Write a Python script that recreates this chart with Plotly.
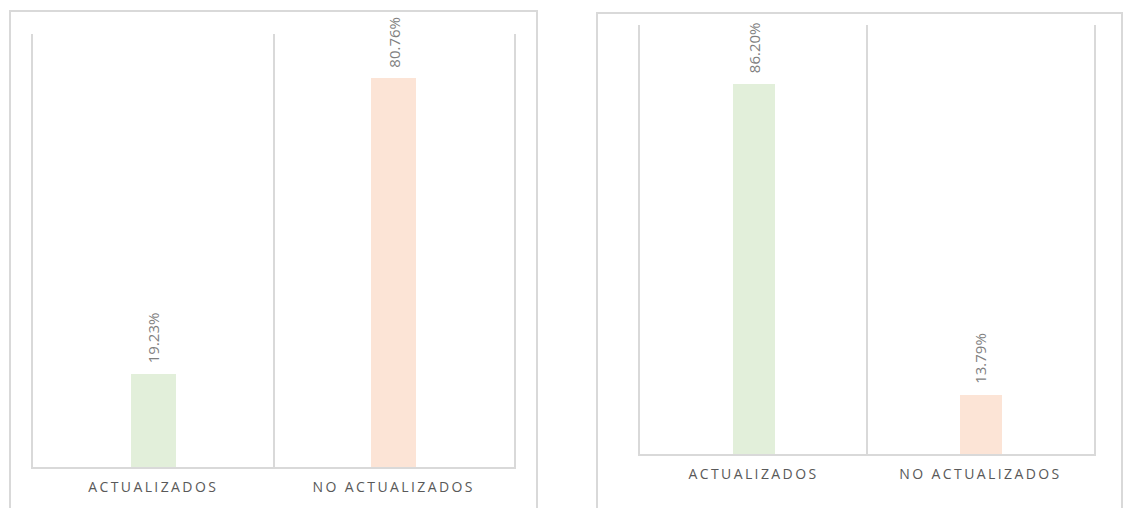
import plotly.graph_objects as go

W, H = 1129, 508

categories = ["ACTUALIZADOS", "NO ACTUALIZADOS"]
left_values = [19.23, 80.76]
right_values = [86.20, 13.79]
left_labels = ["19.23%", "80.76%"]
right_labels = ["86.20%", "13.79%"]
bar_colors = ["#e2efda", "#fce4d6"]

GRID = "#d9d9d9"
TICK_FONT = dict(family="Open Sans", size=14, color="#595959")
VAL_FONT = dict(family="Open Sans", size=15, color="#7f7f7f")

def px_x(v):
    return v / W

def px_y(v):
    return 1 - v / H

tick_text = ['<span style="letter-spacing:2.4px">%s</span>' % c for c in categories]

fig = go.Figure()
fig.add_trace(go.Bar(x=categories, y=left_values, marker=dict(color=bar_colors, line=dict(width=0)),
                     width=0.187, xaxis="x", yaxis="y", hoverinfo="skip"))
fig.add_trace(go.Bar(x=categories, y=right_values, marker=dict(color=bar_colors, line=dict(width=0)),
                     width=0.185, xaxis="x2", yaxis="y2", hoverinfo="skip"))

annotations = []
for c, v, t in zip(categories, left_values, left_labels):
    annotations.append(dict(x=c, y=v, xref="x", yref="y", text=t, showarrow=False, textangle=-90,
                            yanchor="bottom", xanchor="center", yshift=9, font=VAL_FONT))
for c, v, t in zip(categories, right_values, right_labels):
    annotations.append(dict(x=c, y=v, xref="x2", yref="y2", text=t, showarrow=False, textangle=-90,
                            yanchor="bottom", xanchor="center", yshift=9, font=VAL_FONT))

xcommon = dict(type="category", range=[-0.5, 1.5], showline=True, linecolor=GRID, linewidth=2,
               showgrid=True, gridcolor=GRID, gridwidth=2, tickson="boundaries", ticks="",
               tickvals=categories, ticktext=tick_text, tickfont=TICK_FONT, automargin=False,
               zeroline=False, fixedrange=True, ticklabelstandoff=6)
ycommon = dict(showline=True, mirror=True, linecolor=GRID, linewidth=2, showgrid=False,
               showticklabels=False, ticks="", zeroline=False, automargin=False, fixedrange=True)

fig.update_layout(
    width=W, height=H,
    margin=dict(l=0, r=0, t=0, b=0),
    paper_bgcolor="white", plot_bgcolor="white",
    showlegend=False,
    bargap=0,
    xaxis=dict(domain=[px_x(33), px_x(514)], anchor="y", **xcommon),
    yaxis=dict(domain=[px_y(467), px_y(34)], range=[0, 90], anchor="x", **ycommon),
    xaxis2=dict(domain=[px_x(640), px_x(1094)], anchor="y2", **xcommon),
    yaxis2=dict(domain=[px_y(454), px_y(25)], range=[0, 100], anchor="x2", **ycommon),
    annotations=annotations,
    shapes=[
        dict(type="rect", xref="paper", yref="paper", x0=px_x(10), x1=px_x(537), y0=-0.1, y1=px_y(11),
             line=dict(color=GRID, width=2), fillcolor="rgba(0,0,0,0)", layer="below"),
        dict(type="rect", xref="paper", yref="paper", x0=px_x(597), x1=px_x(1122), y0=-0.1, y1=px_y(13),
             line=dict(color=GRID, width=2), fillcolor="rgba(0,0,0,0)", layer="below"),
    ],
)

fig.write_html("out.html")
